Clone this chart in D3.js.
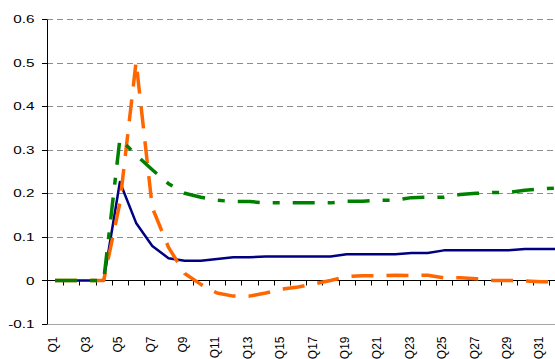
<!DOCTYPE html>
<html>
<head>
<meta charset="utf-8">
<title>Quarterly response chart</title>
<style>
    body { margin: 0; background: #fff; }
    svg { display: block; font-family: "Liberation Sans", Arial, sans-serif; }
</style>
</head>
<body>
<svg width="555" height="359"></svg>

<script src="https://d3js.org/d3.v7.min.js"></script>
<script>
    // quarters along the x axis
    var quarters = ["Q1", "Q2", "Q3", "Q4", "Q5", "Q6", "Q7", "Q8", "Q9", "Q10",
        "Q11", "Q12", "Q13", "Q14", "Q15", "Q16", "Q17", "Q18", "Q19", "Q20",
        "Q21", "Q22", "Q23", "Q24", "Q25", "Q26", "Q27", "Q28", "Q29", "Q30",
        "Q31", "Q32"];

    // series
    var navySeries = [0, 0, 0, 0, 0.226, 0.132, 0.079, 0.051, 0.045, 0.045,
        0.049, 0.053, 0.053, 0.055, 0.055, 0.055, 0.055, 0.055, 0.060, 0.060,
        0.060, 0.060, 0.063, 0.063, 0.069, 0.069, 0.069, 0.069, 0.069, 0.072,
        0.072, 0.072];
    var orangeSeries = [0, 0, 0, 0, 0.178, 0.502, 0.167, 0.076, 0.016, -0.009,
        -0.029, -0.036, -0.036, -0.029, -0.020, -0.015, -0.008, 0.000, 0.009, 0.011,
        0.011, 0.012, 0.011, 0.012, 0.006, 0.006, 0.004, 0.000, 0.000, -0.001,
        -0.003, -0.003];
    var greenSeries = [0, 0, 0, 0, 0.325, 0.288, 0.254, 0.222, 0.200, 0.191,
        0.184, 0.181, 0.181, 0.178, 0.178, 0.178, 0.178, 0.178, 0.182, 0.182,
        0.184, 0.184, 0.190, 0.191, 0.191, 0.197, 0.200, 0.202, 0.202, 0.207,
        0.210, 0.212];

    var yTicks = [-0.1, 0, 0.1, 0.2, 0.3, 0.4, 0.5, 0.6];
    var labelEvery = 2;

    var svg = d3.select("svg");
    var plotLeft = 47, plotTop = 19, plotBottom = 324, plotRight = 555, step = 16.2;

    var x = d3.scaleBand()
        .domain(quarters)
        .range([plotLeft, plotLeft + quarters.length * step]);
    var y = d3.scaleLinear()
        .domain([-0.1, 0.6])
        .range([plotBottom, plotTop]);

    function cx(d, i) { return x(quarters[i]) + x.bandwidth() / 2; }
    function snap(v) { return Math.round(v) + 0.5; }

    // gridlines
    svg.append("g")
        .selectAll("line")
        .data(yTicks.filter(function(d) { return d > 0; }))
        .enter().append("line")
        .attr("x1", plotLeft).attr("x2", plotRight)
        .attr("y1", function(d) { return snap(y(d)); })
        .attr("y2", function(d) { return snap(y(d)); })
        .attr("stroke", "#8c8c8c")
        .attr("stroke-dasharray", "6,4");
    svg.append("line")
        .attr("x1", plotLeft).attr("x2", plotRight)
        .attr("y1", snap(y(-0.1))).attr("y2", snap(y(-0.1)))
        .attr("stroke", "#a6a6a6");

    // y axis
    var yAxis = svg.append("g");
    yAxis.append("line")
        .attr("x1", plotLeft + 0.5).attr("x2", plotLeft + 0.5)
        .attr("y1", snap(y(0.6))).attr("y2", snap(y(-0.1)))
        .attr("stroke", "#000");
    yAxis.selectAll("line.tick")
        .data(yTicks)
        .enter().append("line")
        .attr("class", "tick")
        .attr("x1", plotLeft - 5).attr("x2", plotLeft)
        .attr("y1", function(d) { return snap(y(d)); })
        .attr("y2", function(d) { return snap(y(d)); })
        .attr("stroke", "#000");
    yAxis.selectAll("text")
        .data(yTicks)
        .enter().append("text")
        .attr("transform", function(d) { return "translate(34.5," + y(d) + ") scale(1.33,1)"; })
        .attr("text-anchor", "end")
        .attr("dy", "0.36em")
        .style("font-size", "11.5px")
        .attr("fill", "#000")
        .text(function(d) { return String(+d.toFixed(1)); });

    // category axis on the zero line
    var zeroY = snap(y(0));
    var xAxis = svg.append("g");
    xAxis.append("line")
        .attr("x1", plotLeft).attr("x2", plotRight)
        .attr("y1", zeroY).attr("y2", zeroY)
        .attr("stroke", "#000");
    xAxis.selectAll("line.tick")
        .data(quarters.slice(1))
        .enter().append("line")
        .attr("class", "tick")
        .attr("x1", function(d) { return snap(x(d)); })
        .attr("x2", function(d) { return snap(x(d)); })
        .attr("y1", zeroY).attr("y2", zeroY + 5)
        .attr("stroke", "#000");
    xAxis.selectAll("text")
        .data(quarters.filter(function(d, i) { return i % labelEvery === 0; }))
        .enter().append("text")
        .attr("transform", function(d) {
            return "translate(" + (x(d) + x.bandwidth() / 2 - 2) + ",336.5) rotate(-90)";
        })
        .attr("text-anchor", "end")
        .attr("dy", "0.35em")
        .style("font-size", "12px")
        .attr("fill", "#000")
        .text(function(d) { return d; });

    // series lines
    var line = d3.line()
        .x(cx)
        .y(function(d) { return y(d); });

    var series = [
        { values: navySeries, color: "#000080", width: 2.5, dash: null },
        { values: orangeSeries, color: "#ff6600", width: 3.5, dash: "22,13" },
        { values: greenSeries, color: "#008000", width: 3.5, dash: "22,13,7,13" }
    ];

    svg.append("g")
        .selectAll("path")
        .data(series)
        .enter().append("path")
        .attr("d", function(d) { return line(d.values); })
        .attr("fill", "none")
        .attr("stroke", function(d) { return d.color; })
        .attr("stroke-width", function(d) { return d.width; })
        .attr("stroke-dasharray", function(d) { return d.dash; })
        .attr("stroke-linejoin", "round");
</script>
</body>
</html>
